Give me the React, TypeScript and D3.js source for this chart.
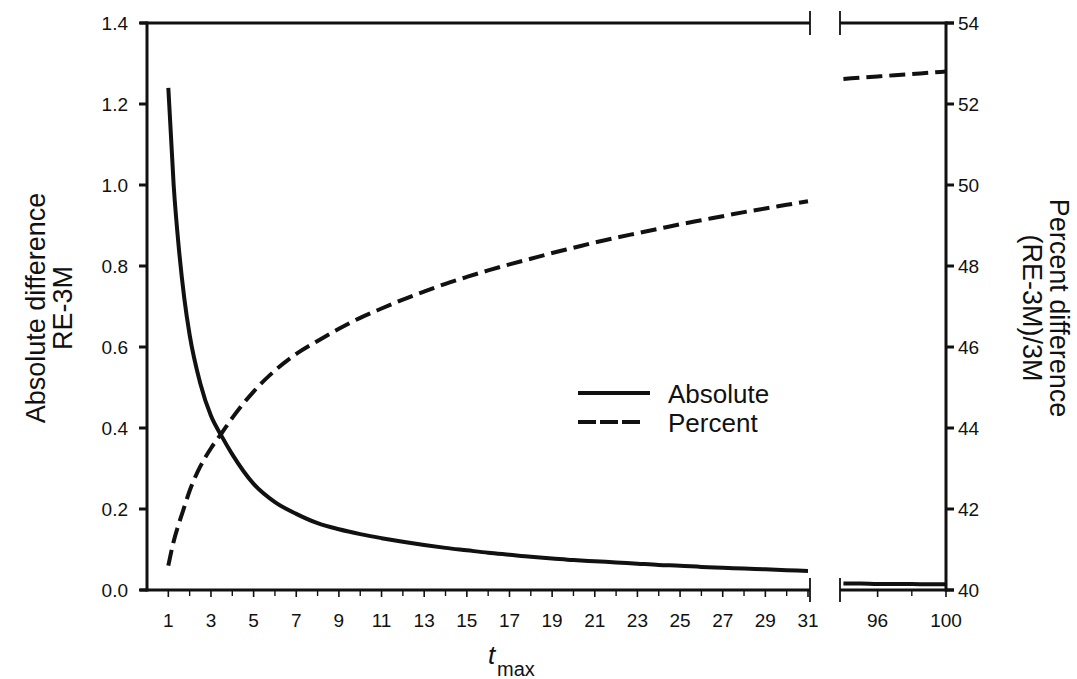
import React from 'react';
import * as d3 from 'd3';

const tLeft = [1, 1.25, 1.5, 1.75, 2, 2.5, 3, 3.5, 4, 5, 6, 7, 8, 9, 10, 11, 12, 13, 14, 15, 16, 17, 18, 19, 20, 21, 22, 23, 24, 25, 26, 27, 28, 29, 30, 31];
const absoluteLeft = [1.24, 1.0, 0.84, 0.72, 0.63, 0.51, 0.43, 0.38, 0.335, 0.262, 0.217, 0.188, 0.165, 0.15, 0.138, 0.128, 0.119, 0.111, 0.104, 0.098, 0.092, 0.087, 0.082, 0.078, 0.074, 0.071, 0.068, 0.065, 0.062, 0.06, 0.057, 0.055, 0.053, 0.051, 0.049, 0.047];
const percentLeft = [40.6, 41.2, 41.65, 42.05, 42.45, 43.05, 43.5, 43.87, 44.25, 44.9, 45.42, 45.83, 46.15, 46.45, 46.72, 46.95, 47.17, 47.37, 47.56, 47.73, 47.89, 48.04, 48.18, 48.32, 48.45, 48.58, 48.7, 48.81, 48.92, 49.03, 49.13, 49.23, 49.33, 49.42, 49.51, 49.6];

const tRight = [94, 95, 96, 97, 98, 99, 100];
const absoluteRight = [0.016, 0.016, 0.015, 0.015, 0.015, 0.014, 0.014];
const percentRight = [52.62, 52.65, 52.68, 52.71, 52.74, 52.77, 52.8];

const xTicksLeft = [1, 3, 5, 7, 9, 11, 13, 15, 17, 19, 21, 23, 25, 27, 29, 31];
const xMinorLeft = [2, 4, 6, 8, 10, 12, 14, 16, 18, 20, 22, 24, 26, 28, 30];
const xTicksRight = [96, 100];
const xMinorRight = [98];
const yLeftTicks = [0, 0.2, 0.4, 0.6, 0.8, 1.0, 1.2, 1.4];
const yRightTicks = [40, 42, 44, 46, 48, 50, 52, 54];

const legendItems = ['Absolute', 'Percent'];

const FONT = '"Liberation Sans", Arial, Helvetica, sans-serif';
const INK = '#111';

export default function App() {
  const W = 1077, H = 679;
  const left = 147, breakL = 810, breakR = 840, right = 946;
  const top = 23, bottom = 590;

  const xL = d3.scaleLinear().domain([0, 31]).range([left, 808]);
  const xR = d3.scaleLinear().domain([93.8, 100]).range([breakR, right]);
  const yL = d3.scaleLinear().domain([0, 1.4]).range([bottom, top]);
  const yR = d3.scaleLinear().domain([40, 54]).range([bottom, top]);

  const mk = (xs: d3.ScaleLinear<number, number>, ys: d3.ScaleLinear<number, number>) =>
    d3.line<[number, number]>().x(d => xs(d[0])).y(d => ys(d[1])).curve(d3.curveMonotoneX);

  const absL = mk(xL, yL)(tLeft.map((t, i) => [t, absoluteLeft[i]]))!;
  const pctL = mk(xL, yR)(tLeft.map((t, i) => [t, percentLeft[i]]))!;
  const absR = mk(xR, yL)(tRight.map((t, i) => [t, absoluteRight[i]]))!;
  const pctR = mk(xR, yR)(tRight.map((t, i) => [t, percentRight[i]]))!;

  const dash = '16,7';

  return (
    <div style={{ position: 'absolute', left: 0, top: 0 }}>
      <svg width={W} height={H} style={{ display: 'block', background: '#fff' }} fontFamily={FONT}>
        {/* curves */}
        <path d={absL} fill="none" stroke={INK} strokeWidth={4} />
        <path d={pctL} fill="none" stroke={INK} strokeWidth={4} strokeDasharray={dash} />
        <path d={absR} fill="none" stroke={INK} strokeWidth={4} />
        <path d={pctR} fill="none" stroke={INK} strokeWidth={4} strokeDasharray={dash} />

        {/* frame */}
        <g stroke={INK} strokeWidth={3} fill="none">
          <line x1={left} x2={left} y1={top - 1.5} y2={bottom + 1.5} />
          <line x1={right} x2={right} y1={top - 1.5} y2={bottom + 1.5} />
          <line x1={left - 7} x2={breakL} y1={top} y2={top} />
          <line x1={breakR} x2={right + 8} y1={top} y2={top} />
          <line x1={left - 7} x2={breakL} y1={bottom} y2={bottom} />
          <line x1={breakR} x2={right + 8} y1={bottom} y2={bottom} />
        </g>
        {/* break marks */}
        <g stroke={INK} strokeWidth={1.8}>
          {[breakL, breakR].map(x => (
            <g key={x}>
              <line x1={x} x2={x} y1={top - 12} y2={top + 12} />
              <line x1={x} x2={x} y1={bottom - 12} y2={bottom + 12} />
            </g>
          ))}
        </g>

        {/* left y ticks */}
        {yLeftTicks.map(v => (
          <g key={'yl' + v}>
            <line x1={left - 8} x2={left} y1={yL(v)} y2={yL(v)} stroke={INK} strokeWidth={3} />
            <text x={128} y={yL(v)} dy="0.35em" textAnchor="end" fontSize={19} fill={INK}>{v.toFixed(1)}</text>
          </g>
        ))}
        {/* right y ticks */}
        {yRightTicks.map(v => (
          <g key={'yr' + v}>
            <line x1={right} x2={right + 8} y1={yR(v)} y2={yR(v)} stroke={INK} strokeWidth={3} />
            <text x={958} y={yR(v)} dy="0.35em" textAnchor="start" fontSize={19} fill={INK}>{v}</text>
          </g>
        ))}

        {/* x ticks */}
        {xTicksLeft.map(v => (
          <g key={'xl' + v}>
            <line x1={xL(v)} x2={xL(v)} y1={bottom} y2={bottom + 7} stroke={INK} strokeWidth={1.6} />
            <text x={xL(v)} y={627} textAnchor="middle" fontSize={19} fill={INK}>{v}</text>
          </g>
        ))}
        {xMinorLeft.map(v => (
          <line key={'xml' + v} x1={xL(v)} x2={xL(v)} y1={bottom} y2={bottom + 6} stroke={INK} strokeWidth={1.4} />
        ))}
        {xTicksRight.map(v => (
          <g key={'xr' + v}>
            <line x1={xR(v)} x2={xR(v)} y1={bottom} y2={bottom + 7} stroke={INK} strokeWidth={1.6} />
            <text x={xR(v)} y={627} textAnchor="middle" fontSize={19} fill={INK}>{v}</text>
          </g>
        ))}
        {xMinorRight.map(v => (
          <line key={'xmr' + v} x1={xR(v)} x2={xR(v)} y1={bottom} y2={bottom + 6} stroke={INK} strokeWidth={1.4} />
        ))}

        {/* axis titles */}
        <text x={488} y={664} fontSize={26} fontStyle="italic" fill={INK}>t</text>
        <text x={497} y={676} fontSize={20} fill={INK}>max</text>

        <g fontSize={27} fill={INK} textAnchor="middle">
          <text transform="translate(45,308) rotate(-90)">Absolute difference</text>
          <text transform="translate(72,308) rotate(-90)">RE-3M</text>
          <text transform="translate(1050,308) rotate(90)">Percent difference</text>
          <text transform="translate(1023,308) rotate(90)">(RE-3M)/3M</text>
        </g>

        {/* legend */}
        {legendItems.map((name, i) => (
          <g key={name}>
            <line x1={578} x2={i === 0 ? 650 : 642} y1={393 + i * 29} y2={393 + i * 29} stroke={INK} strokeWidth={4}
              strokeDasharray={i === 0 ? undefined : '18,4'} />
            <text x={668} y={403 + i * 29} fontSize={26} fill={INK}>{name}</text>
          </g>
        ))}
      </svg>
    </div>
  );
}
